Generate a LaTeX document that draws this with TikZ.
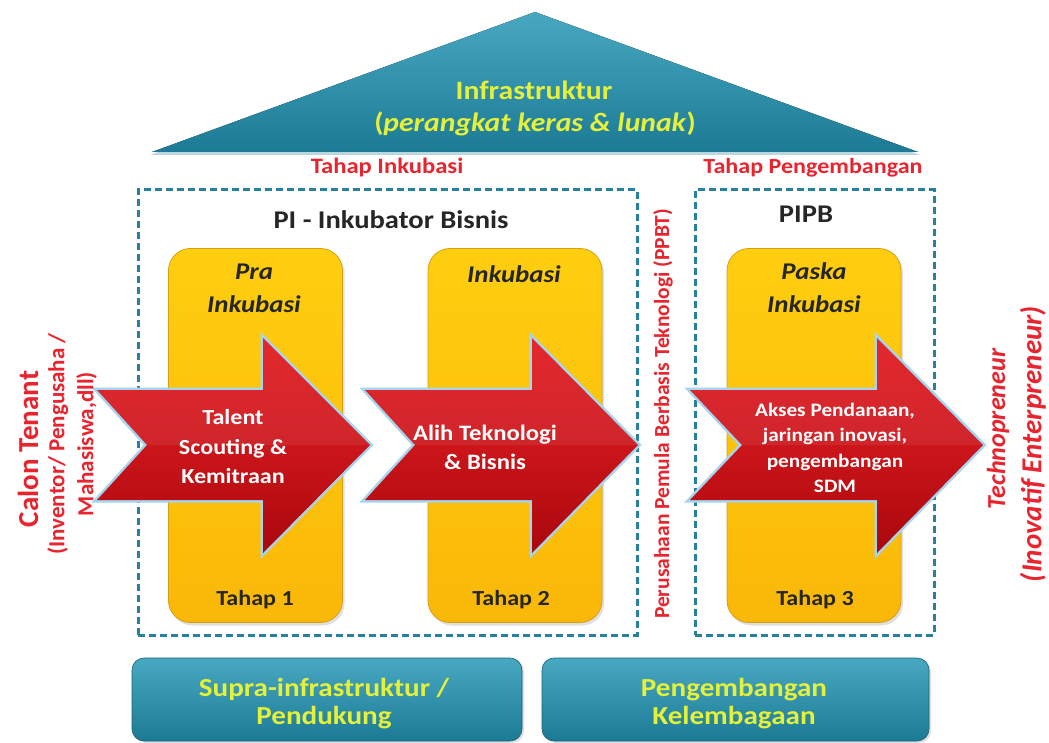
\documentclass[tikz,border=0pt]{standalone}
\usepackage{fontspec}
\setmainfont{Carlito}[FakeStretch=1.12]
\newfontfamily\vf{Carlito}
\usetikzlibrary{shadows}
\definecolor{redtxt}{RGB}{232,36,46}
\definecolor{yeltxt}{RGB}{228,240,58}
\definecolor{tealD}{RGB}{28,122,148}
\definecolor{tealL}{RGB}{72,168,194}
\definecolor{goldT}{RGB}{255,206,16}
\definecolor{goldB}{RGB}{250,184,8}
\definecolor{goldE}{RGB}{214,160,20}
\definecolor{dashc}{RGB}{40,128,158}
\definecolor{arrT}{RGB}{226,24,30}
\definecolor{arrB}{RGB}{170,8,12}
\definecolor{glowc}{RGB}{165,212,240}
\newcommand\fsz[2]{\fontsize{#1}{#2}\selectfont}
\begin{document}
\begin{tikzpicture}[x=1pt,y=-1pt,
  dbox/.style={draw=dashc, line width=3pt, dash pattern=on 7pt off 4pt, inner sep=0pt},
  stagebox/.style={draw=goldE, line width=0.8pt, rounded corners=22pt, top color=goldT, bottom color=goldB, inner sep=0pt, minimum width=174pt, minimum height=374pt, drop shadow={opacity=0.25, shadow xshift=2pt, shadow yshift=-3pt}},
  basebox/.style={rounded corners=12pt, top color=tealL, bottom color=tealD, draw=tealD!80!black, line width=0.6pt, inner sep=0pt, minimum height=83pt, drop shadow={opacity=0.25, shadow xshift=2pt, shadow yshift=-2pt}},
  glow/.style={draw=glowc, line width=5pt, line join=miter},
  arrfill/.style={top color=arrT, bottom color=arrB, middle color=arrT!90!black},
  wtxt/.style={text=white, align=center},
  rtxt/.style={text=redtxt, align=center},
  ytxt/.style={text=yeltxt, align=center},
  ktxt/.style={text=black!85, align=center}
]
\useasboundingbox (0,0) rectangle (1049,743);
\fill[white] (0,0) rectangle (1049,743);

% roof
\fill[tealD!60!white, opacity=0.5] (150,155) -- (535,14) -- (920,155) -- cycle;
\fill[top color=tealL, bottom color=tealD] (152,152) -- (535,12) -- (918,152) -- cycle;
\node[ytxt, font=\bfseries\fsz{26.5}{30}] (infra) at (534,90) {Infrastruktur};
\node[ytxt, font=\bfseries\fsz{26.5}{30}] (infra2) at (535,124) {(\textit{perangkat keras \& lunak})};

% stage labels
\node[rtxt, font=\bfseries\fsz{22}{26}] (tinc) at (387,168) {Tahap Inkubasi};
\node[rtxt, font=\bfseries\fsz{21.5}{26}] (tpeng) at (813,168) {Tahap Pengembangan};

% dashed boxes
\node[dbox, minimum width=499pt, minimum height=445pt] (inc) at (387.5,412.5) {};
\node[dbox, minimum width=239pt, minimum height=445pt] (dev) at (814.5,412.5) {};
\node[ktxt, font=\bfseries\fsz{25.5}{30}] (pib) at (391,220) {PI - Inkubator Bisnis};
\node[ktxt, font=\bfseries\fsz{25.5}{30}] (pipb) at (806,214) {PIPB};

% yellow stages
\node[stagebox] (s1) at (255.5,435.5) {};
\node[stagebox] (s2) at (515,435.5) {};
\node[stagebox] (s3) at (814,435.5) {};
\node[ktxt, font=\bfseries\itshape\fsz{24}{33}] (s1t) at (254,288) {Pra\\Inkubasi};
\node[ktxt, font=\bfseries\itshape\fsz{24}{33}] (s2t) at (514,274) {Inkubasi};
\node[ktxt, font=\bfseries\itshape\fsz{24}{33}] (s3t) at (814,288) {Paska\\Inkubasi};
\node[ktxt, font=\bfseries\fsz{21.5}{24}] (s1b) at (255,600) {Tahap 1};
\node[ktxt, font=\bfseries\fsz{21.5}{24}] (s2b) at (511,600) {Tahap 2};
\node[ktxt, font=\bfseries\fsz{21.5}{24}] (s3b) at (815,600) {Tahap 3};

% red arrows
\foreach \t/\n/\h/\p in {97/147/263/370, 365/415/532/638, 690/742/877/983}{
  \path[glow] (\t,390) -- (\h,390) -- (\h,338) -- (\p,445) -- (\h,553) -- (\h,500) -- (\t,500) -- (\n,445) -- cycle;
  \path[arrfill] (\t,390) -- (\h,390) -- (\h,338) -- (\p,445) -- (\h,553) -- (\h,500) -- (\t,500) -- (\n,445) -- cycle;
  \fill[white, opacity=0.07] (\t,390) -- (\h,390) -- (\h,338) -- (\p,445) -- (\n,445) -- cycle;
}
\node[wtxt, font=\bfseries\fsz{21.5}{29.5}] (a1) at (233,447) {Talent\\Scouting \&\\Kemitraan};
\node[wtxt, font=\bfseries\fsz{22}{29}] (a2) at (485,447) {Alih Teknologi\\\& Bisnis};
\node[wtxt, font=\bfseries\fsz{19}{25.5}] (a3) at (835,448) {Akses Pendanaan,\\jaringan inovasi,\\pengembangan\\SDM};

% side texts
\node[rtxt, rotate=90, font=\vf\bfseries\fsz{29}{32}] (calon) at (28,449) {Calon Tenant};
\node[rtxt, rotate=90, font=\vf\bfseries\fsz{23}{29}] (calon2) at (72,444) {(Inventor/ Pengusaha /\\Mahasiswa,dll)};
\node[rtxt, rotate=90, font=\vf\bfseries\fsz{21.5}{24}] (ppbt) at (663,414) {Perusahaan Pemula Berbasis Teknologi (PPBT)};
\node[rtxt, rotate=90, font=\vf\bfseries\itshape\fsz{26}{28}] (techno) at (998,429) {Technopreneur};
\node[rtxt, rotate=90, font=\vf\bfseries\itshape\fsz{29}{32}] (techno2) at (1033,444) {(Inovatif Enterpreneur)};

% base boxes
\node[basebox, minimum width=390pt] (b1) at (327,699.5) {};
\node[basebox, minimum width=387pt] (b2) at (735.5,699.5) {};
\node[ytxt, font=\bfseries\fsz{26}{28}] (b1t) at (324,704) {Supra-infrastruktur /\\Pendukung};
\node[ytxt, font=\bfseries\fsz{26}{28}] (b2t) at (734,704) {Pengembangan\\Kelembagaan};
\end{tikzpicture}
\end{document}
